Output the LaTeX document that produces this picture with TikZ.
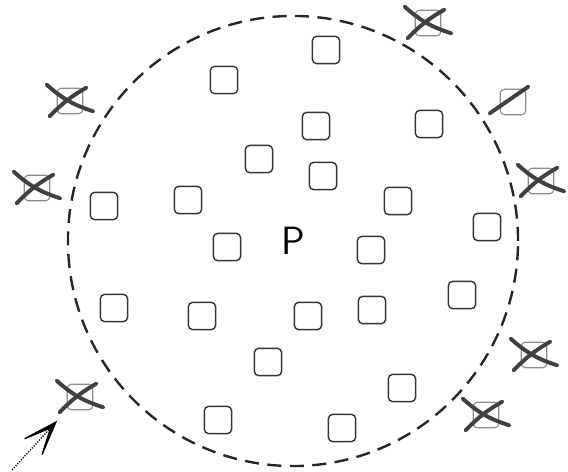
\documentclass[tikz,border=0pt]{standalone}
\usepackage{tikz}
\usetikzlibrary{arrows.meta,calc}

\begin{document}
\begin{tikzpicture}[
  x=0.025cm, y=-0.025cm,
  cell/.style={rectangle, draw=black!80, rounded corners=3pt, line width=1pt,
    minimum size=0.68cm, inner sep=0pt},
  dead/.style={cell, draw=black!45, line width=0.8pt, minimum size=0.64cm},
  strike/.style={line width=2.8pt, draw=black!75, line cap=round},
  region/.style={circle, draw=black!85, dash pattern=on 10pt off 6pt, line width=1.7pt,
    minimum size=11.25cm, inner sep=0pt, font=\sffamily\fontsize{28}{30}\selectfont},
  arr/.style={-{Stealth[length=34pt,width=24pt,inset=26pt]}, densely dotted, line width=0.9pt}
]
\useasboundingbox (0,0) rectangle (568,472);
\node[region] (pool) at (293,241) {P};
% cells inside
\node[cell] (c1) at (326,50) {};
\node[cell] (c2) at (224,80) {};
\node[cell] (c3) at (316,126) {};
\node[cell] (c4) at (429,124) {};
\node[cell] (c5) at (259,159) {};
\node[cell] (c6) at (323,176) {};
\node[cell] (c7) at (104,206) {};
\node[cell] (c8) at (188,200) {};
\node[cell] (c9) at (398,201) {};
\node[cell] (c10) at (487,227) {};
\node[cell] (c11) at (227,247) {};
\node[cell] (c12) at (371,250) {};
\node[cell] (c13) at (114,308) {};
\node[cell] (c14) at (202,316) {};
\node[cell] (c15) at (308,316) {};
\node[cell] (c16) at (372,310) {};
\node[cell] (c17) at (462,295) {};
\node[cell] (c18) at (268,362) {};
\node[cell] (c19) at (402,388) {};
\node[cell] (c20) at (218,420) {};
\node[cell] (c21) at (342,428) {};
% cells outside, struck out
\node[dead] (x1) at (428,23) {};
\node[dead] (x2) at (513,102) {};
\node[dead] (x3) at (541,181) {};
\node[dead] (x4) at (70,101) {};
\node[dead] (x5) at (37,188) {};
\node[dead] (x6) at (80,397) {};
\node[dead] (x7) at (534,355) {};
\node[dead] (x8) at (486,415) {};
\foreach \n in {x1,x3,x4,x5,x6,x7,x8} {
  \draw[strike] ([shift={(-10,-3)}]\n.north west) to[bend right=12] ([shift={(10,-3)}]\n.south east);
  \draw[strike] ([shift={(-7,2)}]\n.south west) to[bend left=8] ([shift={(3,0)}]\n.north east);
}
\draw[strike] ([shift={(-10,-2)}]x2.south west) -- ([shift={(2,-2)}]x2.north east);
\coordinate (tail) at (12,470);
\draw[arr, shorten >=0.35cm] (tail) -- (x6.south west);
\end{tikzpicture}
\end{document}
